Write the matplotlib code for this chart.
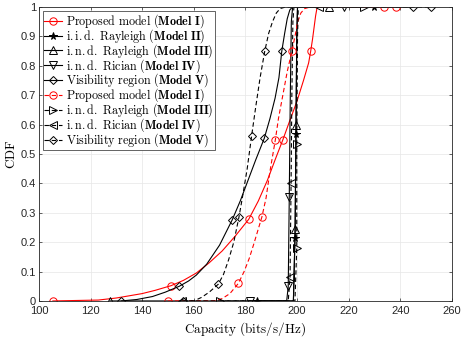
import matplotlib
matplotlib.use("Agg")
import matplotlib.pyplot as plt

plt.rcParams['mathtext.fontset'] = 'cm'
plt.rcParams['font.family'] = ['Liberation Sans', 'DejaVu Sans']

# Model I, proposed model (solid)
m1_x = [105.4, 123.0, 130, 140, 145, 151.2, 156, 161, 166, 171, 176, 181.3, 185, 188.5,
        191.5, 194.5, 197.3, 200, 202.5, 204.5, 205.3, 206.0, 206.6, 207.2, 207.8, 238.5]
m1_y = [0, 0.003, 0.01, 0.025, 0.036, 0.052, 0.07, 0.095, 0.13, 0.17, 0.22, 0.278, 0.34, 0.41,
        0.48, 0.548, 0.616, 0.68, 0.75, 0.81, 0.85, 0.89, 0.93, 0.97, 1.0, 1.0]
m1_marks = [0, 5, 11, 15, 20, 25]

# Model II, i.i.d. Rayleigh
m2_x = [184.6, 198.6, 199.2, 199.6, 199.9, 200.2, 229.8]
m2_y = [0, 0, 0.215, 0.568, 0.9, 1, 1]
m2_marks = [0, 2, 3, 6]

# Model III, i.n.d. Rayleigh (solid)
m3_x = [127.5, 198.6, 199.3, 199.6, 199.9, 200.2, 212.5]
m3_y = [0, 0, 0.245, 0.6, 0.9, 1, 1]
m3_marks = [0, 2, 3, 6]

# Model IV, i.n.d. Rician (solid)
m4_x = [181.8, 196.0, 196.6, 197.0, 197.4, 197.8, 198.3, 218.3]
m4_y = [0, 0, 0.05, 0.355, 0.7, 0.95, 1, 1]
m4_marks = [0, 2, 3, 7]

# Model V, visibility region (solid)
m5_x = [132.0, 138, 144, 149, 154.4, 158, 161, 165, 170, 174.9, 178, 181, 184, 187.3,
        189.5, 191.5, 193, 194.1, 195.2, 196.2, 197.2, 198.2, 244.8]
m5_y = [0, 0.005, 0.015, 0.03, 0.05, 0.068, 0.088, 0.125, 0.19, 0.276, 0.34, 0.41, 0.48, 0.553,
        0.62, 0.69, 0.76, 0.85, 0.91, 0.96, 0.99, 1.0, 1.0]
m5_marks = [0, 4, 9, 13, 17, 22]

# Model I (dashed)
m1d_x = [149.9, 168, 171, 174, 177.3, 179.5, 181.5, 183.3, 185, 186.4, 188, 189.5, 191.6,
         192.8, 194.5, 196.2, 198.0, 199.2, 200.3, 201.5, 203, 205, 233.7]
m1d_y = [0, 0.0, 0.008, 0.025, 0.06, 0.1, 0.145, 0.195, 0.245, 0.286, 0.35, 0.44, 0.548,
         0.62, 0.7, 0.78, 0.85, 0.9, 0.95, 0.98, 0.995, 1.0, 1.0]
m1d_marks = [0, 4, 9, 12, 16, 22]

# Model III (dashed)
m3d_x = [170.2, 199.2, 199.9, 199.9, 200.2, 200.5, 226.0]
m3d_y = [0, 0, 0.18, 0.534, 0.9, 1, 1]
m3d_marks = [0, 2, 3, 6]

# Model IV (dashed)
m4d_x = [155.3, 196.6, 197.3, 197.7, 198.0, 198.4, 198.8, 208.6]
m4d_y = [0, 0, 0.08, 0.40, 0.7, 0.95, 1, 1]
m4d_marks = [0, 2, 3, 7]

# Model V (dashed)
m5d_x = [156.0, 160.0, 163, 166, 169.5, 171.5, 173.5, 175.5, 177.5, 179.0, 180.7, 182.4, 184,
         185.7, 187.5, 189, 190.5, 192, 193.5, 195.5, 252.0]
m5d_y = [0, 0.0, 0.012, 0.03, 0.057, 0.09, 0.14, 0.2, 0.285, 0.36, 0.45, 0.561, 0.66,
         0.76, 0.85, 0.91, 0.95, 0.98, 0.995, 1.0, 1.0]
m5d_marks = [0, 4, 8, 11, 14, 20]

labels = [
    r'$\mathrm{Proposed\ model\ (}\mathbf{Model\ I}\mathrm{)}$',
    r'$\mathrm{i.i.d.\ Rayleigh\ (}\mathbf{Model\ II}\mathrm{)}$',
    r'$\mathrm{i.n.d.\ Rayleigh\ (}\mathbf{Model\ III}\mathrm{)}$',
    r'$\mathrm{i.n.d.\ Rician\ (}\mathbf{Model\ IV}\mathrm{)}$',
    r'$\mathrm{Visibility\ region\ (}\mathbf{Model\ V}\mathrm{)}$',
    r'$\mathrm{Proposed\ model\ (}\mathbf{Model\ I}\mathrm{)}$',
    r'$\mathrm{i.n.d.\ Rayleigh\ (}\mathbf{Model\ III}\mathrm{)}$',
    r'$\mathrm{i.n.d.\ Rician\ (}\mathbf{Model\ IV}\mathrm{)}$',
    r'$\mathrm{Visibility\ region\ (}\mathbf{Model\ V}\mathrm{)}$',
]

dash = (0, (4, 2.5))
series = [
    (m1_x, m1_y, m1_marks, 'red', '-', 'o'),
    (m2_x, m2_y, m2_marks, 'black', '-', '*'),
    (m3_x, m3_y, m3_marks, 'black', '-', '^'),
    (m4_x, m4_y, m4_marks, 'black', '-', 'v'),
    (m5_x, m5_y, m5_marks, 'black', '-', 'D'),
    (m1d_x, m1d_y, m1d_marks, 'red', dash, 'o'),
    (m3d_x, m3d_y, m3d_marks, 'black', dash, '>'),
    (m4d_x, m4d_y, m4d_marks, 'black', dash, '<'),
    (m5d_x, m5d_y, m5d_marks, 'black', dash, 'D'),
]

fig = plt.figure(figsize=(4.63, 3.37), dpi=100)
ax = fig.add_axes([0.084, 0.107, 0.892, 0.872])

for (x, y, marks, col, ls, mk), lab in zip(series, labels):
    ms = 4.3 if mk == 'D' else 5.3
    if mk == '*':
        ms = 5.5
    ax.plot(x, y, color=col, linestyle=ls, linewidth=0.8, marker=mk, markevery=marks,
            markersize=ms, markerfacecolor='none' if mk != '*' else col,
            markeredgecolor=col, markeredgewidth=0.7, label=lab)

ax.set_xlim(100, 260)
ax.set_ylim(0, 1)
ax.set_xticks(range(100, 261, 20))
ax.set_yticks([i / 10 for i in range(11)])
ax.set_yticklabels(['0', '0.1', '0.2', '0.3', '0.4', '0.5', '0.6', '0.7', '0.8', '0.9', '1'])
ax.tick_params(direction='in', length=2.5, width=0.5, labelsize=8, top=True, right=True,
               colors='#262626')
ax.tick_params(axis='x', pad=4)
ax.tick_params(axis='y', pad=2)
ax.grid(True, color='#e6e6e6', linewidth=0.5)
ax.set_axisbelow(True)
for s in ax.spines.values():
    s.set_color('#262626')
    s.set_linewidth(0.6)

ax.set_xlabel(r'$\mathrm{Capacity\ (bits/s/Hz)}$', fontsize=9.5, labelpad=2.5)
ax.set_ylabel(r'$\mathrm{CDF}$', fontsize=9.5, labelpad=2)

# tight rows like the original legend
leg = ax.legend(loc='upper left', fontsize=8.7, handlelength=1.5, handletextpad=0.3,
                labelspacing=-0.24, borderpad=0.12, borderaxespad=0.3, fancybox=False,
                framealpha=1, edgecolor='#262626', handleheight=0.5)
leg.get_frame().set_linewidth(0.5)

fig.savefig('out.png', dpi=100)
